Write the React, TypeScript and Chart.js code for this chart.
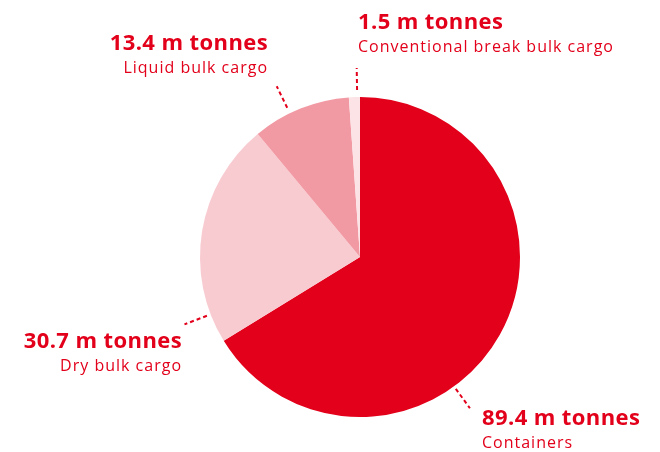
import React, { useEffect, useRef } from "react";
import { Chart, registerables } from "chart.js";

Chart.register(...registerables);

const categories = ["Containers", "Dry bulk cargo", "Liquid bulk cargo", "Conventional break bulk cargo"];
const values = [89.4, 30.7, 13.4, 1.5];
const valueLabels = ["89.4 m tonnes", "30.7 m tonnes", "13.4 m tonnes", "1.5 m tonnes"];
const colors = ["#e2001a", "#f8cbd1", "#f29aa4", "#fce3e6"];

const RED = "#e2001a";
// leader angle (deg clockwise from top), text anchor offsets relative to centre, alignment
const labelLayout = [
  { angle: 144, r1: 163, r2: 187, tx: 122, ty: 168, align: "left" },
  { angle: 249, r1: 164, r2: 188, tx: -178, ty: 91, align: "right" },
  { angle: 334, r1: 166, r2: 190, tx: -92, ty: -207, align: "right" },
  { angle: 359, r1: 167, r2: 189, tx: -2, ty: -228, align: "left" },
];

const labelPlugin = {
  id: "labels",
  afterDraw(chart: any) {
    const ctx = chart.ctx;
    const meta = chart.getDatasetMeta(0);
    const arc = meta.data[0];
    const cx = arc.x;
    const cy = arc.y;
    ctx.save();
    labelLayout.forEach((l, i) => {
      const a = (l.angle * Math.PI) / 180;
      const dx = Math.sin(a);
      const dy = -Math.cos(a);
      ctx.strokeStyle = RED;
      ctx.lineWidth = 2;
      ctx.setLineDash([4, 3]);
      ctx.beginPath();
      ctx.moveTo(cx + dx * l.r1, cy + dy * l.r1);
      ctx.lineTo(cx + dx * l.r2, cy + dy * l.r2);
      ctx.stroke();
      ctx.setLineDash([]);
      ctx.fillStyle = RED;
      ctx.textAlign = l.align as CanvasTextAlign;
      ctx.textBaseline = "alphabetic";
      ctx.font = "bold 22px 'Open Sans'";
      (ctx as any).letterSpacing = "0.4px";
      ctx.fillText(valueLabels[i], cx + l.tx, cy + l.ty);
      ctx.font = "16px 'Open Sans'";
      (ctx as any).letterSpacing = "1px";
      ctx.fillText(categories[i], cx + l.tx, cy + l.ty + 23);
      (ctx as any).letterSpacing = "0px";
    });
    ctx.restore();
  },
};

export default function App() {
  const ref = useRef<HTMLCanvasElement>(null);
  useEffect(() => {
    if (!ref.current) return;
    const chart = new Chart(ref.current, {
      type: "pie",
      data: {
        labels: categories,
        datasets: [
          {
            data: values,
            backgroundColor: colors,
            borderWidth: 0,
          },
        ],
      },
      options: {
        animation: false,
        responsive: false,
        layout: { padding: { left: 200, right: 140, top: 97, bottom: 35 } },
        plugins: { legend: { display: false }, tooltip: { enabled: false } },
      },
      plugins: [labelPlugin],
    });
    return () => chart.destroy();
  }, []);
  return (
    <div style={{ position: "absolute", left: 0, top: 0, width: 660, height: 452, background: "#fff" }}>
      <canvas ref={ref} width={660} height={452} style={{ display: "block" }} />
    </div>
  );
}
